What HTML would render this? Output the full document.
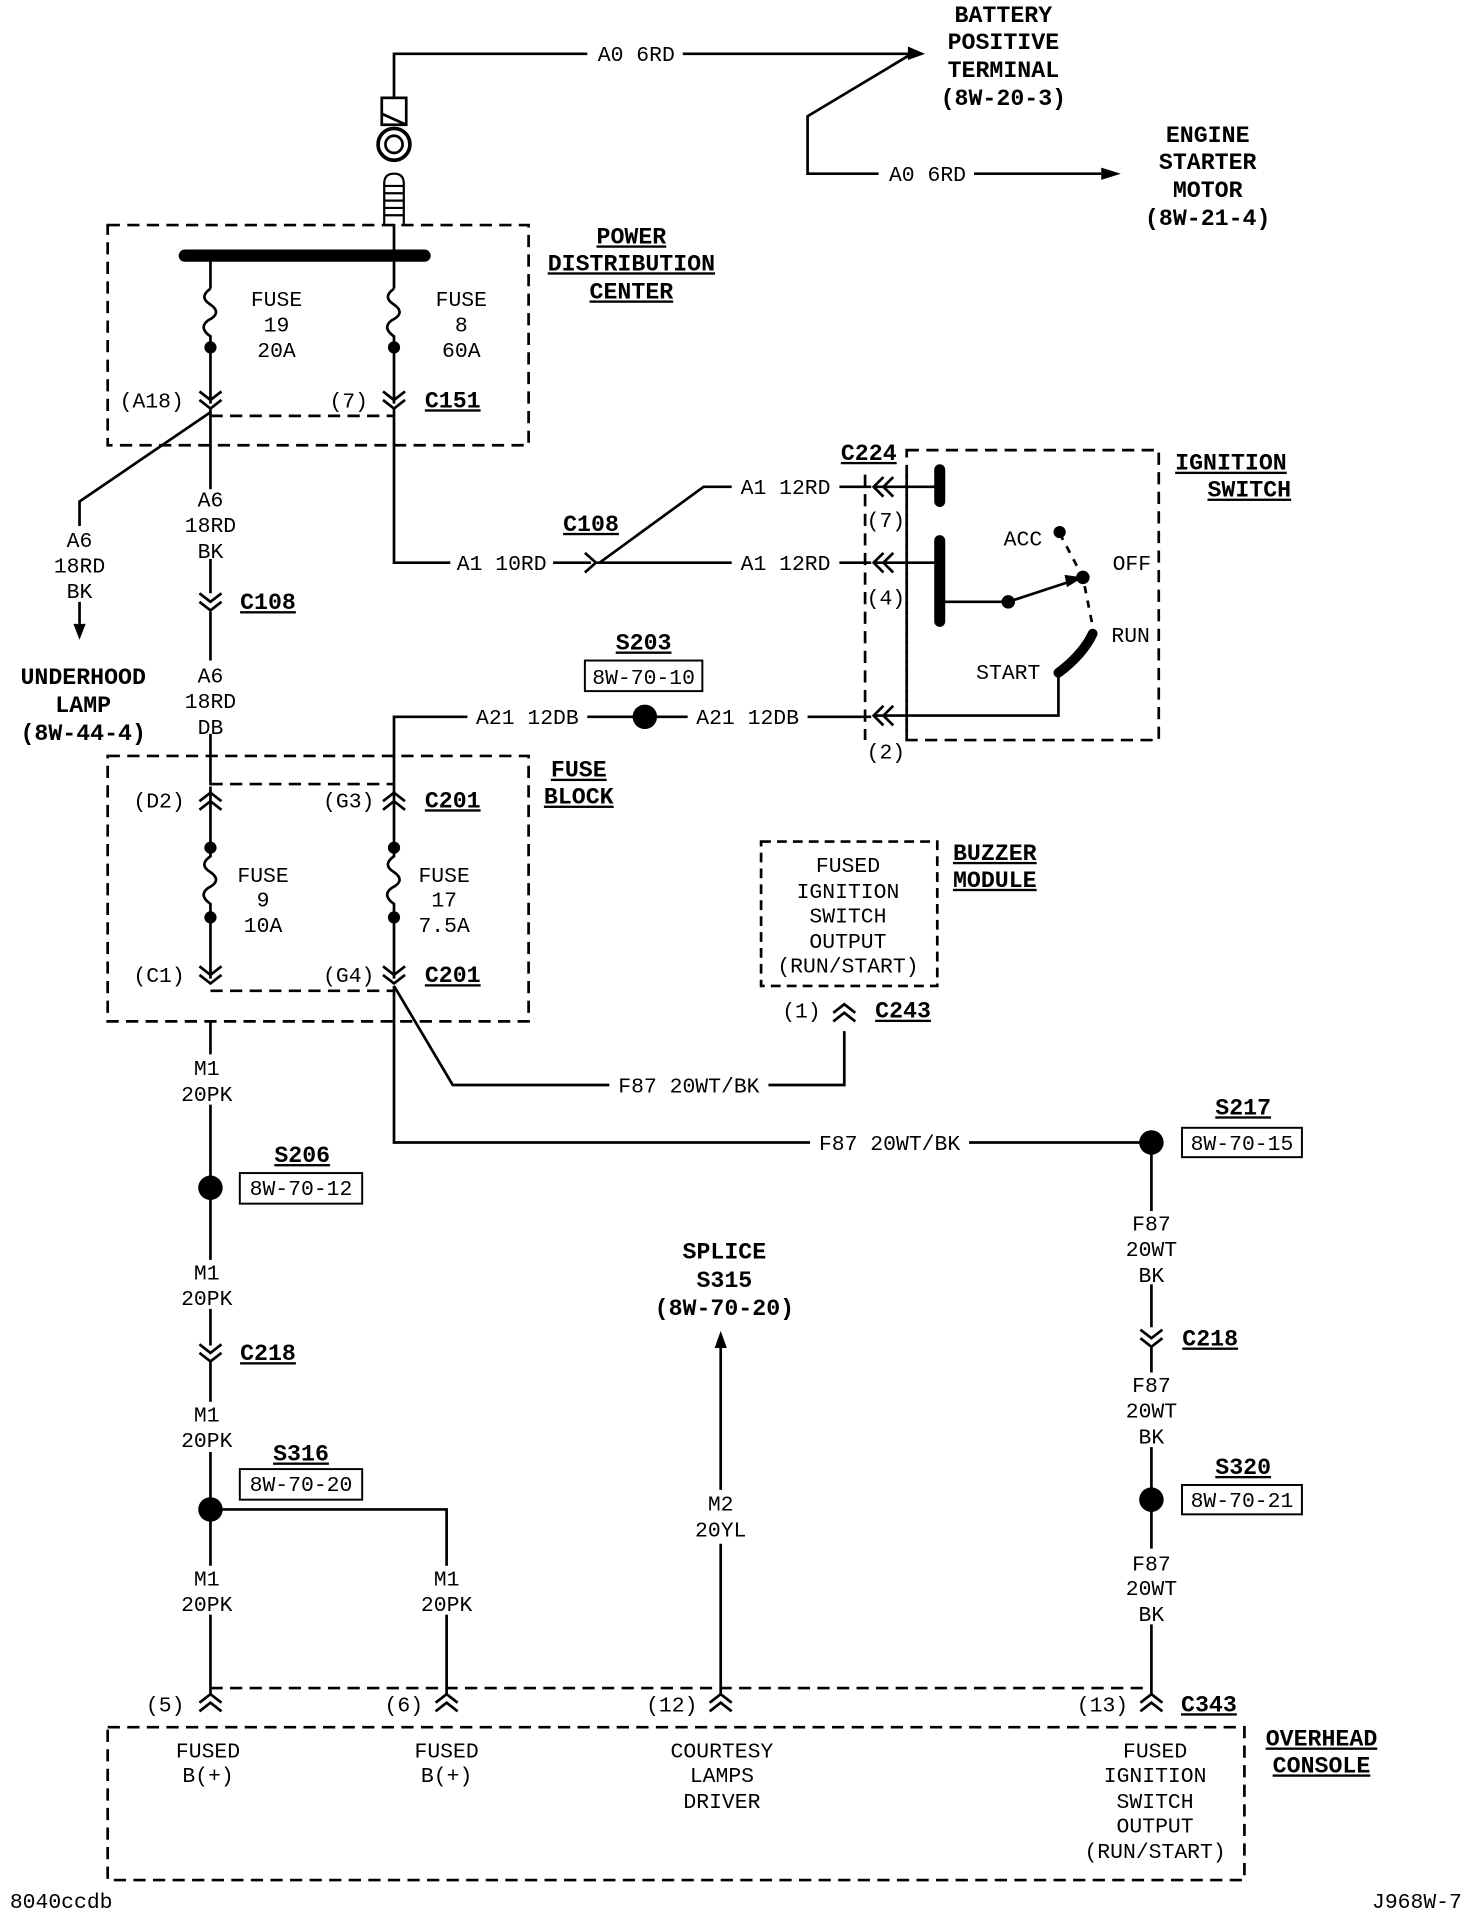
<!DOCTYPE html>
<html><head><meta charset="utf-8"><style>
html,body{margin:0;padding:0;background:#fff;}
svg{display:block;}
text{font-family:"Liberation Mono",monospace;font-size:17.5px;fill:#000;}
.b{font-weight:bold;font-size:19px;text-decoration:underline;}
.h{font-weight:bold;font-size:19px;}
</style></head><body>
<svg width="1472" height="1918" viewBox="0 0 1203 1568" preserveAspectRatio="none" xmlns="http://www.w3.org/2000/svg">
<g fill="none" stroke="#000" stroke-width="2.2">
<path d="M322 80 V44 H480 M558 44 H742"/>
<path d="M745 44 L660 95 V142 H718 M796 142 H900"/>
<rect x="312" y="80" width="20" height="22"/>
<path d="M312 93 L332 102"/>
<circle cx="322" cy="118" r="13" stroke-width="3"/>
<circle cx="322" cy="118" r="7"/>
<path d="M314 183 V150 Q314 142 322 142 Q330 142 330 150 V183 M314 152 H330 M314 158 H330 M314 164 H330 M314 170 H330 M314 176 H330" stroke-width="1.8"/>
<rect x="88" y="184" width="344" height="180" stroke-dasharray="10 6"/>
<path d="M172 340 H322" stroke-dasharray="10 6"/>
<path d="M322 183 V209 M172 209 V236 M322 209 V236"/>
<path d="M172 236 q-10 7 0 13 q10 7 -2 13 q-8 6 2 13 V330 M322 236 q-10 7 0 13 q10 7 -2 13 q-8 6 2 13 V330"/>
<path d="M163 320 L172 327 L181 320 M163 327 L172 334 L181 327 M313 320 L322 327 L331 320 M313 327 L322 334 L331 327"/>
<path d="M172 334 V400 M172 457 V485 M172 500 V540 M172 600 V642"/>
<path d="M172 337 L65 410 V430 M65 492 V510"/>
<path d="M163 485 L172 492 L181 485 M163 492 L172 499 L181 492"/>
<path d="M322 334 V460 H368 M452 460 H483 M478 452 L487 460 L478 468 M487 460 H598 M686 460 H712"/>
<path d="M490 460 L575 398 H598 M686 398 H712"/>
<rect x="741" y="368" width="206" height="237" stroke-dasharray="10 6"/>
<path d="M707 388 V605 M741 388 V605" stroke-dasharray="10 6"/>
<path d="M722 390 L714 398 L722 406 M730 390 L722 398 L730 406 M722 452 L714 460 L722 468 M730 452 L722 460 L730 468 M722 577 L714 585 L722 593 M730 577 L722 585 L730 593"/>
<path d="M714 398 H768 M714 460 H768 M768 492 H824 L885 472 M714 585 H865 V552"/>
<path d="M768 384 V410 M768 442 V508" stroke-width="9" stroke-linecap="round"/>
<path d="M893 518 Q885 535 865 550" stroke-width="8" stroke-linecap="round"/>
<path d="M866 436 L885 472 L893 512" stroke-dasharray="6 6"/>
<path d="M322 643 V586 H382 M480 586 H527 M527 586 H562 M660 586 H712"/>
<rect x="88" y="618" width="344" height="217" stroke-dasharray="10 6"/>
<path d="M172 641 H322 M172 810 H322" stroke-dasharray="10 6"/>
<path d="M163 655 L172 648 L181 655 M163 662 L172 655 L181 662 M313 655 L322 648 L331 655 M313 662 L322 655 L331 662"/>
<path d="M172 643 V700 q-10 7 0 13 q10 7 -2 13 q-8 6 2 13 V800 M322 643 V700 q-10 7 0 13 q10 7 -2 13 q-8 6 2 13 V800"/>
<path d="M163 790 L172 797 L181 790 M163 797 L172 804 L181 797 M313 790 L322 797 L331 790 M313 797 L322 804 L331 797"/>
<path d="M322 806 L370 887 H498 M628 887 H690 V843"/>
<path d="M681 828 L690 821 L699 828 M681 835 L690 828 L699 835"/>
<rect x="622" y="688" width="144" height="118" stroke-dasharray="8 5"/>
<path d="M322 806 V934 H662 M792 934 H941"/>
<path d="M941 934 V990 M941 1050 V1085 M932 1087 L941 1094 L950 1087 M932 1094 L941 1101 L950 1094 M941 1100 V1122 M941 1183 V1266 M941 1328 V1385"/>
<path d="M932 1392 L941 1385 L950 1392 M932 1399 L941 1392 L950 1399"/>
<rect x="966" y="922" width="98" height="24" stroke-width="1.6"/>
<rect x="966" y="1214" width="98" height="24" stroke-width="1.6"/>
<path d="M172 834 V862 M172 903 V1030 M172 1070 V1100 M163 1099 L172 1106 L181 1099 M163 1106 L172 1113 L181 1106 M172 1112 V1146 M172 1187 V1280 M172 1320 V1385 M172 1234 H365 V1280 M365 1320 V1385"/>
<rect x="196" y="959" width="100" height="25" stroke-width="1.6"/>
<rect x="196" y="1201" width="100" height="25" stroke-width="1.6"/>
<rect x="478" y="540" width="96" height="25" stroke-width="1.6"/>
<path d="M163 1392 L172 1385 L181 1392 M163 1399 L172 1392 L181 1399 M356 1392 L365 1385 L374 1392 M356 1399 L365 1392 L374 1399 M580 1392 L589 1385 L598 1392 M580 1399 L589 1392 L598 1399"/>
<path d="M589 1385 V1262 M589 1218 V1100"/>
<rect x="88" y="1412" width="929" height="125" stroke-dasharray="10 6"/>
<path d="M172 1380 H941" stroke-dasharray="10 6"/>
</g>
<g fill="#000" stroke="none">
<rect x="146" y="204" width="206" height="10" rx="5"/>
<path d="M742 38 L756 44 L742 49 Z"/>
<path d="M900 137 L916 142 L900 147 Z"/>
<path d="M60 510 L65 523 L70 510 Z"/>
<path d="M584 1102 L589 1088 L594 1102 Z"/>
<path d="M870 470 L885 472 L872 480 Z"/>
<circle cx="172" cy="284" r="5"/><circle cx="322" cy="284" r="5"/>
<circle cx="172" cy="693" r="5"/><circle cx="322" cy="693" r="5"/>
<circle cx="172" cy="750" r="5"/><circle cx="322" cy="750" r="5"/>
<circle cx="824" cy="492" r="5.5"/><circle cx="885" cy="472" r="5.5"/><circle cx="866" cy="435" r="5"/>
<circle cx="527" cy="586" r="10"/><circle cx="941" cy="934" r="10"/><circle cx="941" cy="1226" r="10"/>
<circle cx="172" cy="971" r="10"/><circle cx="172" cy="1234" r="10"/>
</g>
<g text-anchor="middle">
<text x="520" y="50">A0 6RD</text>
<text x="758" y="148">A0 6RD</text>
<text class="h" x="820" y="18">BATTERY</text>
<text class="h" x="820" y="40">POSITIVE</text>
<text class="h" x="820" y="63">TERMINAL</text>
<text class="h" x="820" y="86">(8W-20-3)</text>
<text class="h" x="987" y="116">ENGINE</text>
<text class="h" x="987" y="138">STARTER</text>
<text class="h" x="987" y="161">MOTOR</text>
<text class="h" x="987" y="184">(8W-21-4)</text>
<text class="b" x="516" y="199">POWER</text>
<text class="b" x="516" y="221">DISTRIBUTION</text>
<text class="b" x="516" y="244">CENTER</text>
<text x="226" y="250">FUSE</text><text x="226" y="271">19</text><text x="226" y="292">20A</text>
<text x="377" y="250">FUSE</text><text x="377" y="271">8</text><text x="377" y="292">60A</text>
<text x="124" y="333">(A18)</text><text x="285" y="333">(7)</text>
<text class="b" x="370" y="333">C151</text>
<text x="65" y="447">A6</text><text x="65" y="468">18RD</text><text x="65" y="489">BK</text>
<text x="172" y="414">A6</text><text x="172" y="435">18RD</text><text x="172" y="456">BK</text>
<text class="b" x="219" y="498">C108</text>
<text x="172" y="558">A6</text><text x="172" y="579">18RD</text><text x="172" y="600">DB</text>
<text class="h" x="68" y="559">UNDERHOOD</text>
<text class="h" x="68" y="582">LAMP</text>
<text class="h" x="68" y="605">(8W-44-4)</text>
<text x="410" y="466">A1 10RD</text>
<text class="b" x="483" y="434">C108</text>
<text x="642" y="404">A1 12RD</text>
<text x="642" y="466">A1 12RD</text>
<text class="b" x="710" y="376">C224</text>
<text x="724" y="431">(7)</text><text x="724" y="494">(4)</text><text x="724" y="620">(2)</text>
<text x="836" y="446">ACC</text><text x="925" y="466">OFF</text><text x="924" y="525">RUN</text><text x="824" y="555">START</text>
<text class="b" x="1006" y="384">IGNITION</text>
<text class="b" x="1021" y="406">SWITCH</text>
<text class="b" x="526" y="531">S203</text>
<text x="526" y="559">8W-70-10</text>
<text x="431" y="592">A21 12DB</text>
<text x="611" y="592">A21 12DB</text>
<text class="b" x="473" y="635">FUSE</text>
<text class="b" x="473" y="657">BLOCK</text>
<text x="130" y="660">(D2)</text><text x="285" y="660">(G3)</text><text class="b" x="370" y="660">C201</text>
<text x="215" y="721">FUSE</text><text x="215" y="741">9</text><text x="215" y="762">10A</text>
<text x="363" y="721">FUSE</text><text x="363" y="741">17</text><text x="363" y="762">7.5A</text>
<text x="130" y="803">(C1)</text><text x="285" y="803">(G4)</text><text class="b" x="370" y="803">C201</text>
<text x="693" y="713">FUSED</text><text x="693" y="734">IGNITION</text><text x="693" y="754">SWITCH</text><text x="693" y="775">OUTPUT</text><text x="693" y="795">(RUN/START)</text>
<text class="b" x="813" y="703">BUZZER</text><text class="b" x="813" y="725">MODULE</text>
<text x="655" y="832">(1)</text><text class="b" x="738" y="832">C243</text>
<text x="563" y="893">F87 20WT/BK</text>
<text x="727" y="940">F87 20WT/BK</text>
<text class="b" x="1016" y="911">S217</text><text x="1015" y="940">8W-70-15</text>
<text x="941" y="1006">F87</text><text x="941" y="1027">20WT</text><text x="941" y="1048">BK</text>
<text class="b" x="989" y="1100">C218</text>
<text x="941" y="1138">F87</text><text x="941" y="1159">20WT</text><text x="941" y="1180">BK</text>
<text class="b" x="1016" y="1205">S320</text><text x="1015" y="1232">8W-70-21</text>
<text x="941" y="1284">F87</text><text x="941" y="1304">20WT</text><text x="941" y="1325">BK</text>
<text x="169" y="879">M1</text><text x="169" y="900">20PK</text>
<text class="b" x="247" y="950">S206</text><text x="246" y="977">8W-70-12</text>
<text x="169" y="1046">M1</text><text x="169" y="1067">20PK</text>
<text class="b" x="219" y="1112">C218</text>
<text x="169" y="1162">M1</text><text x="169" y="1183">20PK</text>
<text class="b" x="246" y="1194">S316</text><text x="246" y="1219">8W-70-20</text>
<text x="169" y="1296">M1</text><text x="169" y="1317">20PK</text>
<text x="365" y="1296">M1</text><text x="365" y="1317">20PK</text>
<text class="h" x="592" y="1029">SPLICE</text><text class="h" x="592" y="1052">S315</text><text class="h" x="592" y="1075">(8W-70-20)</text>
<text x="589" y="1235">M2</text><text x="589" y="1256">20YL</text>
<text x="135" y="1399">(5)</text><text x="330" y="1399">(6)</text><text x="549" y="1399">(12)</text><text x="901" y="1399">(13)</text>
<text class="b" x="988" y="1399">C343</text>
<text class="b" x="1080" y="1427">OVERHEAD</text><text class="b" x="1080" y="1449">CONSOLE</text>
<text x="170" y="1437">FUSED</text><text x="170" y="1457">B(+)</text>
<text x="365" y="1437">FUSED</text><text x="365" y="1457">B(+)</text>
<text x="590" y="1437">COURTESY</text><text x="590" y="1457">LAMPS</text><text x="590" y="1478">DRIVER</text>
<text x="944" y="1437">FUSED</text><text x="944" y="1457">IGNITION</text><text x="944" y="1478">SWITCH</text><text x="944" y="1498">OUTPUT</text><text x="944" y="1519">(RUN/START)</text>
<text x="50" y="1560">8040ccdb</text>
<text x="1158" y="1560">J968W-7</text>
</g>
</svg>
</body></html>
